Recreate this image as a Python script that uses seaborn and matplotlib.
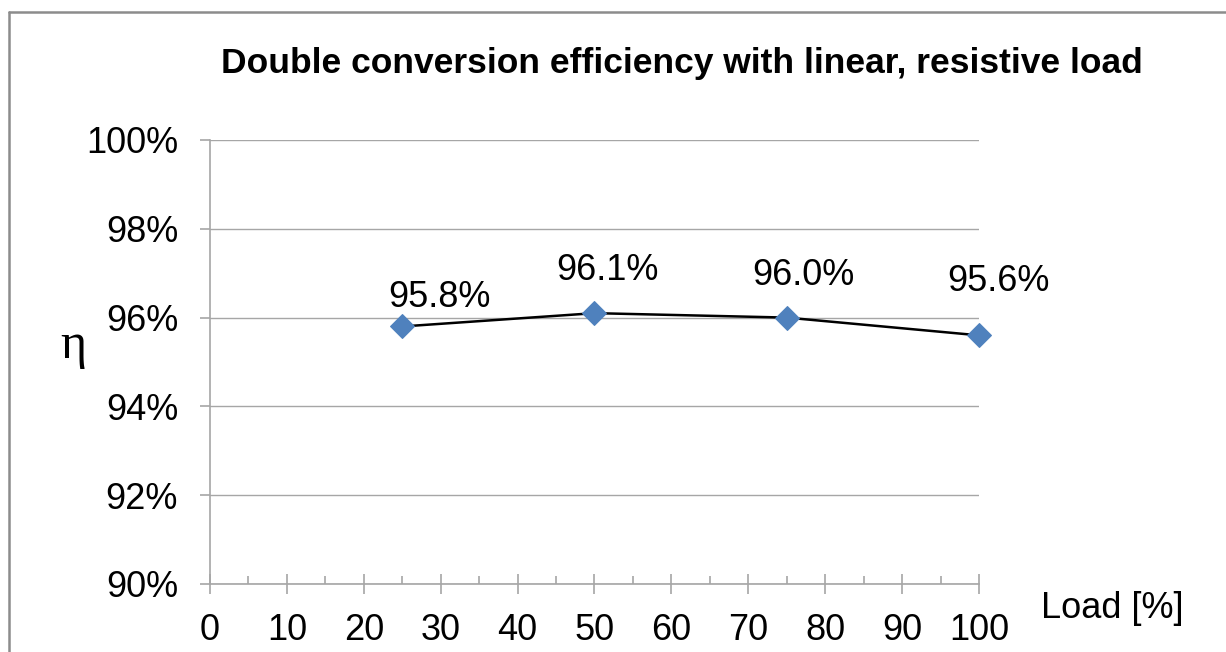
import numpy as np
import pandas as pd
import seaborn as sns
import matplotlib.pyplot as plt
from matplotlib.lines import Line2D
from matplotlib.ticker import MultipleLocator, FuncFormatter

# chart data
load_pct = [25, 50, 75, 100]
efficiency = [95.8, 96.1, 96.0, 95.6]
point_labels = ["95.8%", "96.1%", "96.0%", "95.6%"]
x_ticks = [0, 10, 20, 30, 40, 50, 60, 70, 80, 90, 100]
y_ticks = [90, 92, 94, 96, 98, 100]

# label offsets in points (dx, dy), as Excel placed them
label_offsets = [(27, -21), (9, -31), (12, -30), (14, -39)]

df = pd.DataFrame({"load": load_pct, "eff": efficiency})

sns.set_theme(style="white")
plt.rcParams['font.family'] = ['Liberation Sans', 'DejaVu Sans']
plt.rcParams['text.color'] = 'black'
plt.rcParams['xtick.color'] = 'black'
plt.rcParams['ytick.color'] = 'black'

fig = plt.figure(figsize=(12.26, 6.52), dpi=100)
ax = fig.add_axes([0.1713, 0.1043, 0.6272, 0.681])

grey = "#a6a6a6"
sns.lineplot(data=df, x="load", y="eff", ax=ax, color="black", linewidth=1.8,
             marker="D", markersize=12, markerfacecolor="#4f81bd",
             markeredgecolor="#4f81bd", zorder=3, clip_on=False)

for x, y, lab, (dx, dy) in zip(load_pct, efficiency, point_labels, label_offsets):
    ax.annotate(lab, (x, y), xytext=(dx, -dy), textcoords="offset points",
                ha="center", va="center", fontsize=26, color="black")

ax.set_xlim(0, 100)
ax.set_ylim(90, 100)
ax.set_xticks(x_ticks)
ax.set_yticks(y_ticks)
ax.xaxis.set_minor_locator(MultipleLocator(5))
ax.yaxis.set_major_formatter(FuncFormatter(lambda v, p: f"{v:.0f}%"))
ax.yaxis.grid(True, color=grey, linewidth=1)
ax.xaxis.grid(False)

for s in ["top", "right"]:
    ax.spines[s].set_visible(False)
for s in ["left", "bottom"]:
    ax.spines[s].set_color(grey)
    ax.spines[s].set_linewidth(1.2)

ax.tick_params(axis="y", which="major", direction="out", length=7, color=grey,
               width=1.2, labelsize=26, pad=16, left=True, labelcolor="black")
ax.tick_params(axis="x", which="major", direction="inout", length=14, color=grey,
               width=1.2, labelsize=26, pad=14, bottom=True, labelcolor="black")
ax.tick_params(axis="x", which="minor", direction="in", length=6, color=grey,
               width=1.2, bottom=True)

ax.set_xlabel("")
ax.set_ylabel("")

fig.text(0.5563, 0.902, "Double conversion efficiency with linear, resistive load",
         ha="center", va="center", fontsize=25.5, fontweight="bold")
fig.text(0.907, 0.067, "Load [%]", ha="center", va="center", fontsize=26)
fig.text(0.0595, 0.47, "η", ha="center", va="center", fontsize=36,
         family=["Liberation Serif", "DejaVu Serif"])

# outer frame (top and left edges visible in the crop)
fig.add_artist(Line2D([9 / 1226, 9 / 1226], [0, 1 - 12 / 652], transform=fig.transFigure,
                      color="#8c8c8c", linewidth=1.8))
fig.add_artist(Line2D([9 / 1226, 1], [1 - 12 / 652, 1 - 12 / 652], transform=fig.transFigure,
                      color="#8c8c8c", linewidth=1.8))

fig.savefig("out.png", dpi=100)
